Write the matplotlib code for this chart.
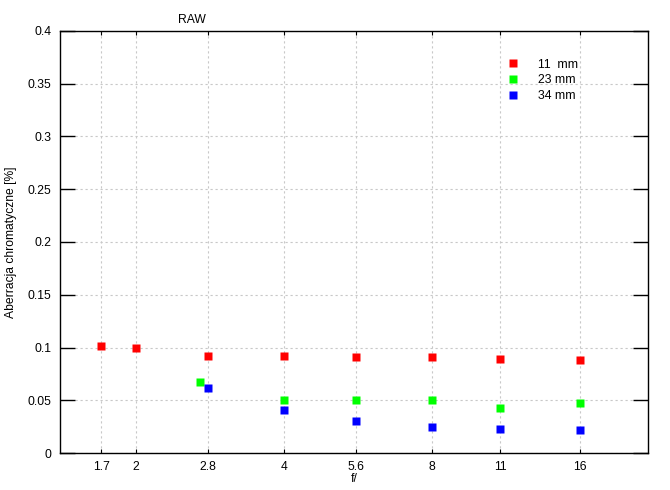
import numpy as np
import matplotlib.pyplot as plt
from matplotlib.ticker import FixedLocator, FixedFormatter, NullLocator

plt.rcParams['font.family'] = ['Liberation Sans', 'DejaVu Sans']

# f-numbers and chromatic aberration values (%)
f_11 = [1.7, 2, 2.8, 4, 5.6, 8, 11, 16]
ca_11 = [0.101, 0.100, 0.092, 0.092, 0.091, 0.091, 0.089, 0.088]

f_23 = [2.7, 4, 5.6, 8, 11, 16]
ca_23 = [0.067, 0.050, 0.050, 0.050, 0.043, 0.047]

f_34 = [2.8, 4, 5.6, 8, 11, 16]
ca_34 = [0.062, 0.041, 0.030, 0.025, 0.023, 0.022]

xticks = [1.7, 2, 2.8, 4, 5.6, 8, 11, 16]
xticklabels = ['1.7', '2', '2.8', '4', '5.6', '8', '11', '16']
yticks = [0, 0.05, 0.1, 0.15, 0.2, 0.25, 0.3, 0.35, 0.4]
yticklabels = ['0', '0.05', '0.1', '0.15', '0.2', '0.25', '0.3', '0.35', '0.4']

fig = plt.figure(figsize=(6.7, 4.9), dpi=100)
ax = fig.add_axes([60/670, 1-453/490, 588/670, 422/490])

ax.plot(f_11, ca_11, 's', color='#ff0000', ms=5.8, mec='none', label='11  mm')
ax.plot(f_23, ca_23, 's', color='#00ff00', ms=5.8, mec='none', label='23 mm')
ax.plot(f_34, ca_34, 's', color='#0000ff', ms=5.8, mec='none', label='34 mm')

ax.set_xscale('log')
ax.set_xlim(1.4, 22)
ax.set_ylim(0, 0.4)
ax.xaxis.set_major_locator(FixedLocator(xticks))
ax.xaxis.set_major_formatter(FixedFormatter(xticklabels))
ax.xaxis.set_minor_locator(NullLocator())
ax.set_yticks(yticks)
ax.set_yticklabels(yticklabels)

ax.grid(True, color='#c8c8c8', linestyle=(0, (2, 2.5)), linewidth=0.8)
ax.tick_params(axis='y', direction='in', length=11, width=1, left=True, right=True,
               labelsize=8.7, pad=6)
ax.tick_params(axis='x', direction='in', length=3, width=0.8, top=True, bottom=True,
               labelsize=8.7, pad=6)
for s in ax.spines.values():
    s.set_linewidth(1)

ax.set_xlabel('f/', fontsize=8.7, labelpad=0)
ax.set_ylabel('Aberracja chromatyczne [%]', fontsize=8.7, labelpad=8)
ax.text(192/670, 1-20/490, 'RAW', transform=fig.transFigure, ha='center', va='center',
        fontsize=8.7)

ax.legend(loc='upper left', bbox_to_anchor=(0.752, 0.946), frameon=False,
          fontsize=8.8, handletextpad=1.5, labelspacing=0.3, handlelength=1.0,
          borderaxespad=0)

fig.savefig('out.png', dpi=100)
